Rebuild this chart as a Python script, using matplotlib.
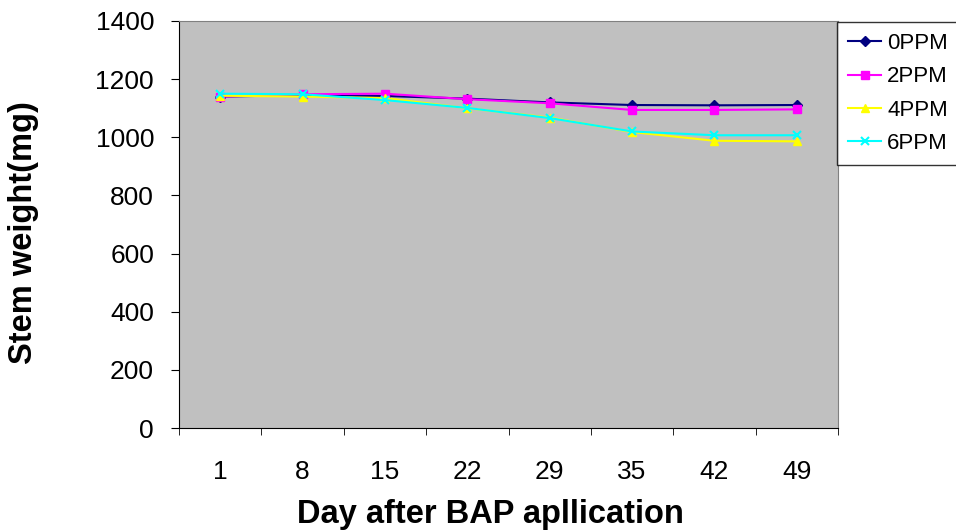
import matplotlib
matplotlib.use('Agg')
import matplotlib.pyplot as plt

plt.rcParams['font.family'] = ['Liberation Sans', 'DejaVu Sans']

days = ['1', '8', '15', '22', '29', '35', '42', '49']
ppm0 = [1140, 1145, 1142, 1133, 1120, 1111, 1110, 1111]
ppm2 = [1140, 1148, 1150, 1131, 1117, 1094, 1094, 1096]
ppm4 = [1143, 1140, 1135, 1100, 1068, 1018, 988, 986]
ppm6 = [1150, 1148, 1128, 1101, 1066, 1020, 1007, 1007]

fig = plt.figure(figsize=(9.56, 5.31), dpi=100)
ax = fig.add_axes([179 / 956, 103 / 531, 659 / 956, 407 / 531])
ax.set_facecolor('#C0C0C0')

x = list(range(len(days)))
ax.plot(x, ppm0, color='#000080', marker='D', markersize=5, lw=1.5, label='0PPM')
ax.plot(x, ppm2, color='#FF00FF', marker='s', markersize=6, lw=1.5, label='2PPM')
ax.plot(x, ppm4, color='#FFFF00', marker='^', markersize=6, lw=1.5, label='4PPM')
ax.plot(x, ppm6, color='#00FFFF', marker='x', markersize=6, mew=1.5, lw=1.5, label='6PPM')

ax.set_xlim(-0.5, len(days) - 0.5)
ax.set_ylim(0, 1400)
ax.set_yticks(range(0, 1401, 200))
ax.set_xticks(x)
ax.set_xticklabels(days)
# тики по границам категорий, как в Excel
ax.set_xticks([i - 0.5 for i in range(len(days) + 1)], minor=True)
ax.tick_params(axis='x', which='major', length=0, pad=23, labelsize=19)
ax.tick_params(axis='x', which='minor', length=5, direction='out')
ax.tick_params(axis='y', length=6, direction='out', labelsize=19, pad=12)

ax.spines['top'].set_color('#808080')
ax.spines['right'].set_color('#808080')

# подписи осей ставим вручную
fig.text(490 / 956, 1 - 523 / 531, 'Day after BAP apllication', fontsize=23.5,
         fontweight='bold', ha='center', va='baseline')
fig.text(24 / 956, 1 - 233 / 531, 'Stem weight(mg)', fontsize=23.5,
         fontweight='bold', ha='center', va='center', rotation=90)

leg = fig.legend(loc='upper left', bbox_to_anchor=(837 / 956, 1 - 22 / 531),
                 fontsize=16, frameon=True, fancybox=False, edgecolor='black',
                 handlelength=1.5, borderpad=0.5, labelspacing=0.55,
                 handletextpad=0.25, borderaxespad=0)
leg.get_frame().set_linewidth(1.0)

fig.savefig('out.png', dpi=100)
plt.close()
